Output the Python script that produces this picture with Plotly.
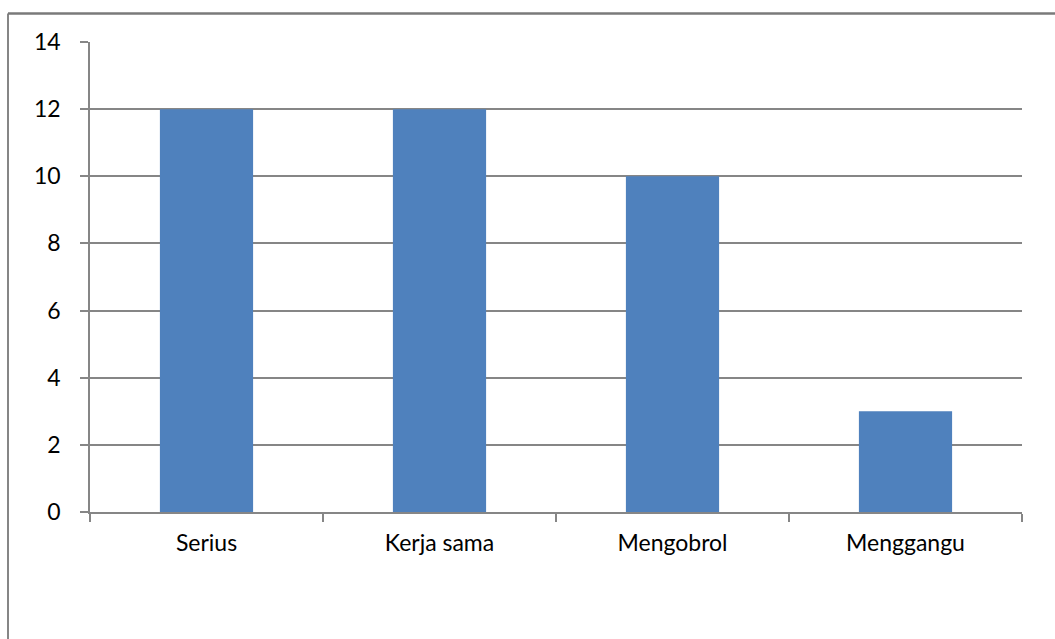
import plotly.graph_objects as go

categories = ["Serius", "Kerja sama", "Mengobrol", "Menggangu"]
values = [12, 12, 10, 3]
y_ticks = [0, 2, 4, 6, 8, 10, 12, 14]

W, H = 1055, 639
L, R, T, B = 90, 33, 42, 127
pw, ph = W - L - R, H - T - B

fig = go.Figure(go.Bar(x=categories, y=values, marker=dict(color="#4F81BD", line=dict(width=0)), width=0.4))

grid = "#868686"
fig.update_layout(
    width=W, height=H,
    margin=dict(l=L, r=R, t=T, b=B),
    paper_bgcolor="white", plot_bgcolor="white",
    font=dict(family="Lato", size=23, color="black"),
    showlegend=False,
    bargap=0.6,
)
fig.update_xaxes(
    type="category", tickson="boundaries", ticks="outside", ticklen=8, tickcolor=grid, tickwidth=1.5,
    showline=True, linecolor=grid, linewidth=1.5, showgrid=False, ticklabelstandoff=10,
)
fig.update_yaxes(
    range=[0, 14], tickvals=y_ticks, ticks="outside", ticklen=8, tickcolor=grid, tickwidth=1.5,
    showline=True, linecolor=grid, linewidth=1.5, showgrid=True, gridcolor=grid, gridwidth=1.5,
    zeroline=False, ticklabelstandoff=15,
)
# chart border (decoration): left and top edges visible within the frame
x_left = (8 - L) / pw
x_right = (W + 5 - L) / pw
y_top = 1 + (T - 13.5) / ph
y_bot = -(H + 5 - T - ph) / ph
fig.add_shape(type="line", xref="paper", yref="paper", x0=x_left, y0=y_bot, x1=x_left, y1=y_top,
              line=dict(color=grid, width=2), layer="above")
fig.add_shape(type="line", xref="paper", yref="paper", x0=x_left, y0=y_top, x1=x_right, y1=y_top,
              line=dict(color="#7a7a7a", width=2.5), layer="above")
fig.write_html("out.html", config={"displayModeBar": False})
